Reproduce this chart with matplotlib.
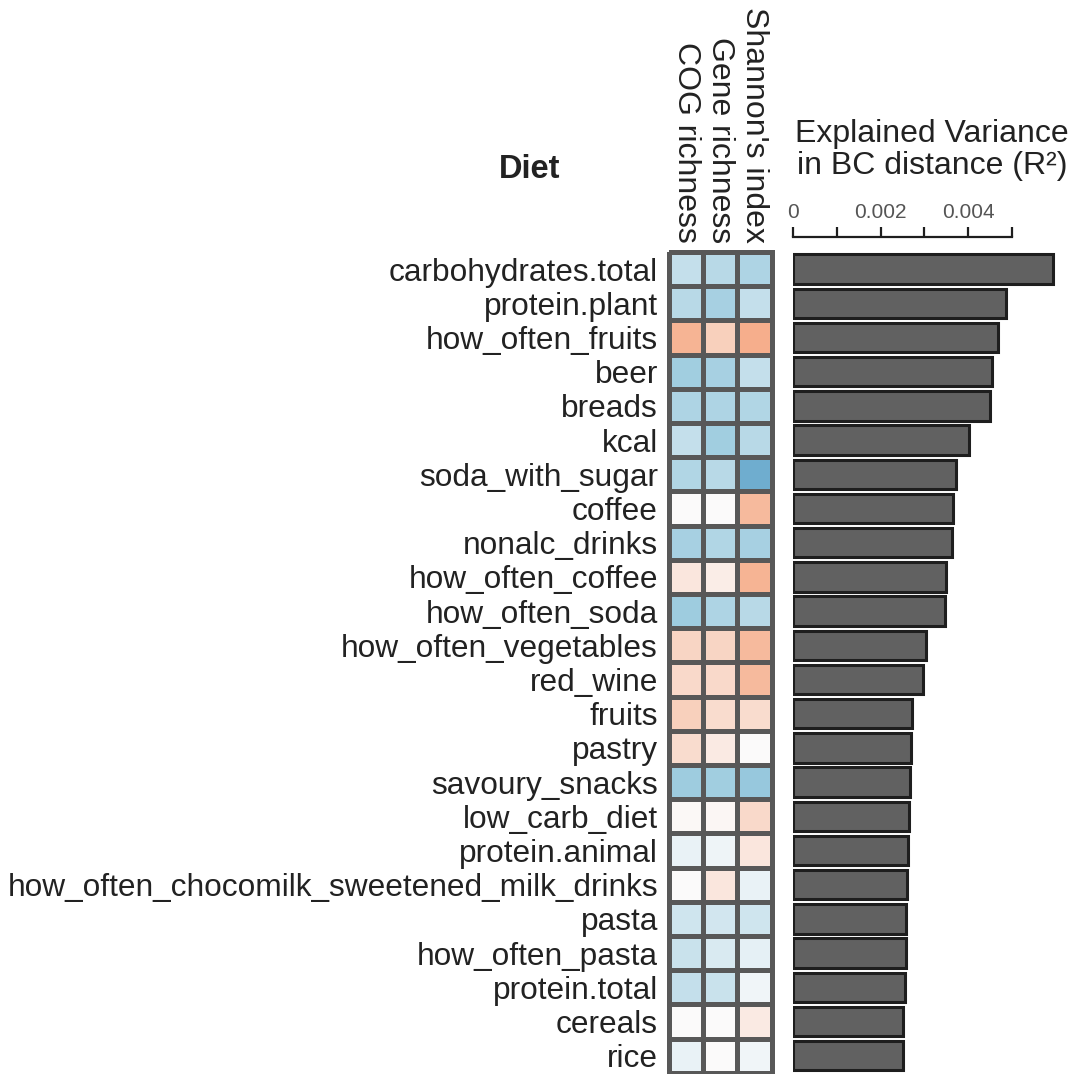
import numpy as np
import matplotlib
matplotlib.use("Agg")
import matplotlib.pyplot as plt
from matplotlib.colors import LinearSegmentedColormap

plt.rcParams['font.family'] = ['Liberation Sans', 'DejaVu Sans']

# diet variables, ordered by explained variance
foods = [
    "carbohydrates.total", "protein.plant", "how_often_fruits", "beer", "breads",
    "kcal", "soda_with_sugar", "coffee", "nonalc_drinks", "how_often_coffee",
    "how_often_soda", "how_often_vegetables", "red_wine", "fruits", "pastry",
    "savoury_snacks", "low_carb_diet", "protein.animal",
    "how_often_chocomilk_sweetened_milk_drinks", "pasta", "how_often_pasta",
    "protein.total", "cereals", "rice",
]

# explained variance in Bray-Curtis distance (R^2)
r2 = [
    0.00594, 0.00486, 0.00468, 0.00454, 0.00450, 0.00402, 0.00372, 0.00365,
    0.00363, 0.00349, 0.00347, 0.00304, 0.00297, 0.00272, 0.00269, 0.00267,
    0.00265, 0.00263, 0.00260, 0.00258, 0.00258, 0.00256, 0.00251, 0.00251,
]

diversity = ["COG richness", "Gene richness", "Shannon's index"]

# scaled correlation with each diversity measure
cog_rich = [-0.25, -0.30, 0.42, -0.40, -0.35, -0.25, -0.33, 0.00, -0.38, 0.12,
            -0.42, 0.22, 0.20, 0.25, 0.18, -0.42, 0.02, -0.08, 0.00, -0.20,
            -0.22, -0.25, 0.00, -0.08]
gene_rich = [-0.30, -0.38, 0.25, -0.38, -0.35, -0.40, -0.30, 0.00, -0.33, 0.08,
             -0.35, 0.22, 0.20, 0.18, 0.10, -0.40, 0.03, -0.06, 0.12, -0.18,
             -0.15, -0.22, 0.00, 0.00]
shannon = [-0.35, -0.25, 0.45, -0.25, -0.33, -0.30, -0.65, 0.38, -0.38, 0.42,
           -0.30, 0.38, 0.38, 0.18, 0.00, -0.45, 0.20, 0.12, -0.08, -0.20,
           -0.10, -0.05, 0.10, -0.05]

corr = np.column_stack([cog_rich, gene_rich, shannon])
n = len(foods)

cmap = LinearSegmentedColormap.from_list(
    "div", ["#2f7db8", "#8cc3da", "#fbfbfb", "#f5a680", "#d05a43"])

W, H = 1076, 1074
fig = plt.figure(figsize=(W / 100, H / 100), dpi=100)

row_h = 34.2
top_px = 252
ax_h = n * row_h
bottom = 1 - (top_px + ax_h) / H
txt = "#222222"

# heatmap of correlations
axh = fig.add_axes([669 / W, bottom, 102.5 / W, ax_h / H])
mesh = axh.pcolormesh(corr, cmap=cmap, vmin=-1, vmax=1,
                      edgecolors="#585858", linewidth=3.4)
mesh.set_clip_on(False)
axh.set_xlim(0, 3)
axh.set_ylim(n, 0)
for s in axh.spines.values():
    s.set_visible(False)
axh.set_xticks([])
axh.set_yticks(np.arange(n) + 0.5)
axh.set_yticklabels(foods, fontsize=22.8, color=txt)
axh.tick_params(axis="y", length=0, pad=8)
for i, name in enumerate(diversity):
    axh.text(i + 0.5, 1.011, name, transform=axh.get_xaxis_transform(),
             rotation=-90, ha="center", va="bottom", fontsize=23,
             color=txt)

# explained variance bars
px_per_unit = 43800.0
xmax = 0.0063
axb = fig.add_axes([793 / W, bottom, xmax * px_per_unit / W, ax_h / H])
axb.barh(np.arange(n) + 0.5, r2, height=0.86, color="#616161",
         edgecolor="#1e1e1e", linewidth=2.2)
axb.set_xlim(0, xmax)
axb.set_ylim(n, 0)
for side in ["left", "right", "bottom"]:
    axb.spines[side].set_visible(False)
axb.spines["top"].set_position(("outward", 10.5))
axb.spines["top"].set_bounds(0, 0.005)
axb.spines["top"].set_linewidth(1.6)
axb.spines["top"].set_color("#1e1e1e")
axb.set_yticks([])
ticks = [0, 0.001, 0.002, 0.003, 0.004, 0.005]
axb.set_xticks(ticks)
axb.set_xticklabels(["0", "", "0.002", "", "0.004", ""])
axb.xaxis.tick_top()
axb.tick_params(axis="x", direction="out", length=7, width=1.6,
                color="#1e1e1e", labelsize=15, labelcolor="#555555", pad=4)

fig.text(530 / W, 1 - 170 / H, "Diet", ha="center", va="center",
         fontsize=23.5, fontweight="bold", color=txt)
fig.text(932 / W, 1 - 150 / H, "Explained Variance\nin BC distance (R²)",
         ha="center", va="center", fontsize=23, color=txt,
         linespacing=1.12)

fig.savefig("out.png", dpi=100, facecolor="white")
